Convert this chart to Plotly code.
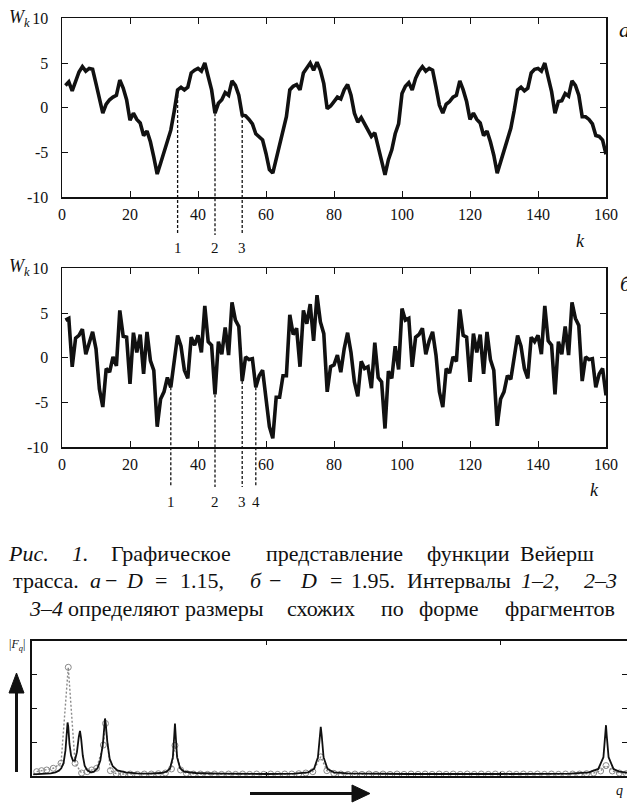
import plotly.graph_objects as go

W, H = 627, 804


def fx(p):
    return p / W


def fy(p):
    return 1 - p / H


# ---------------- data ----------------
k_values = list(range(1, 161))

w_a = [2.5, 2.9, 1.9, 3.1, 4.0, 4.6, 4.1, 4.4, 4.3, 2.7,
       0.9, -0.6, 0.4, 0.9, 1.2, 1.4, 3.1, 2.2, 0.9, -1.4,
       -0.6, -1.3, -1.7, -3.1, -2.6, -3.8, -5.5, -7.4, -6.2, -4.9,
       -3.6, -2.5, -0.4, 2.0, 2.3, 2.0, 2.3, 3.9, 4.2, 4.4,
       4.1, 5.0, 3.5, 2.0, -0.6, 0.5, 0.9, 1.7, 1.4, 3.0,
       2.5, 1.4, -0.8, -0.9, -1.3, -1.8, -2.9, -3.2, -3.6, -5.1,
       -6.9, -7.3, -5.8, -4.4, -2.7, -1.0, 2.0, 2.4, 2.6, 2.0,
       3.9, 4.4, 5.0, 4.2, 5.1, 4.2, 2.7, -0.1, 0.2, 0.7,
       1.2, 1.0, 2.0, 2.6, 1.4, -0.6, -1.6, -1.1, -1.8, -2.3,
       -3.2, -2.8, -4.4, -5.8, -7.5, -5.8, -4.7, -2.9, -1.8, 1.6,
       2.4, 2.8, 2.0, 3.3, 4.1, 4.6, 4.1, 4.4, 4.2, 2.3,
       0.3, -0.6, 0.4, 0.7, 1.2, 1.4, 3.0, 2.0, 0.7, -1.3,
       -0.6, -1.3, -1.7, -3.1, -2.6, -3.8, -5.3, -7.3, -6.0, -4.7,
       -3.6, -2.3, -0.3, 2.0, 2.3, 1.9, 2.2, 3.9, 4.3, 4.4,
       4.1, 5.0, 3.4, 1.8, -0.6, 0.7, 0.8, 1.6, 1.3, 3.0,
       2.5, 1.4, -1.0, -1.0, -1.3, -1.8, -3.1, -3.2, -3.6, -5.2]

w_b = [4.2, 4.4, -1.0, 2.2, 2.5, 3.2, 0.4, 1.8, 2.9, 1.0,
       -3.5, -5.5, -1.2, -1.6, 0.1, -0.9, 5.3, 2.4, 2.3, -2.9,
       2.8, 0.6, 2.6, -1.8, 2.9, -0.3, -1.4, -7.7, -4.6, -3.8,
       -2.2, -3.3, -0.1, 2.5, 1.3, -1.4, -2.3, 2.3, 1.4, 2.5,
       0.6, 5.8, 1.8, 1.4, -4.1, 1.8, 0.4, 3.4, 0.3, 6.2,
       4.2, 3.5, -2.6, 0.1, -0.2, -0.1, -3.3, -2.0, -1.4, -4.2,
       -7.7, -9.0, -4.4, -4.4, -2.0, -2.0, 4.8, 2.6, 3.3, -1.0,
       5.3, 3.8, 6.0, 1.9, 7.0, 4.0, 2.7, -3.8, -1.0, -0.8,
       0.3, -1.6, 1.0, 2.8, 0.6, -2.7, -4.3, -0.4, -1.2, -1.0,
       -3.4, 1.7, -2.2, -2.7, -7.9, -1.5, -2.3, 1.3, -1.3, 5.5,
       4.2, 4.4, -1.0, 2.3, 2.6, 3.3, 0.4, 1.9, 2.9, 0.3,
       -3.8, -5.5, -1.2, -1.7, 0.1, -0.4, 5.4, 2.5, 2.3, -2.7,
       2.7, 0.6, 2.6, -1.8, 2.9, -0.2, -1.4, -7.6, -4.6, -3.8,
       -2.0, -2.4, 0.3, 2.5, 1.3, -1.2, -2.3, 2.3, 1.8, 2.5,
       0.4, 5.8, 1.9, 1.4, -4.1, 1.8, 0.4, 3.5, 0.3, 6.2,
       4.4, 3.6, -2.6, 0.1, -0.2, -0.1, -3.3, -1.8, -1.2, -4.2]

cuts_a = [34, 45, 53]
cut_labels_a = ["1", "2", "3"]
cuts_b = [32, 45, 53, 57]
cut_labels_b = ["1", "2", "3", "4"]

x_tickvals = [0, 20, 40, 60, 80, 100, 120, 140, 160]
y_tickvals = [-10, -5, 0, 5, 10]
y_ticktext = ["-10", "-5", "0", "5", "10"]

# spectrum |F_q| (solid curve)
spec_q = [0.5, 5, 8, 10, 11.5, 12.5, 13.5, 14.3, 15.0, 15.2, 15.5, 16.0, 16.7, 17.5,
          18.3, 19.2, 20.0, 20.5, 21.0, 21.7, 22.5, 23.5, 25, 26.5, 28, 29.2, 30.3,
          31.0, 31.2, 31.5, 32.2, 33.2, 34.5, 36.5, 40, 45, 50, 55, 57.5, 59, 60.2,
          60.8, 61.1, 61.4, 62.0, 63.3, 65, 70, 80, 100, 112, 118, 120.5, 122.2,
          123.0, 123.4, 123.8, 124.6, 126.3, 129, 135, 160, 200, 230, 238, 242,
          244.2, 245.0, 245.3, 245.6, 246.4, 248.5, 251, 254.3]
spec_f = [0.04, 0.05, 0.07, 0.1, 0.15, 0.22, 0.38, 0.75, 1.45, 1.58, 1.45, 0.95, 0.6, 0.45,
          0.45, 0.7, 1.15, 1.33, 1.1, 0.6, 0.3, 0.17, 0.1, 0.12, 0.22, 0.45, 0.95,
          1.6, 1.7, 1.55, 1.0, 0.5, 0.28, 0.16, 0.1, 0.07, 0.06, 0.08, 0.12, 0.22, 0.55,
          1.2, 1.55, 1.2, 0.55, 0.22, 0.12, 0.08, 0.06, 0.05, 0.06, 0.1, 0.2, 0.55,
          1.2, 1.45, 1.2, 0.55, 0.2, 0.1, 0.07, 0.05, 0.05, 0.06, 0.1, 0.2,
          0.55, 1.2, 1.5, 1.2, 0.55, 0.2, 0.12, 0.09]

# spectrum, second series (circles)
circ_q = [2.0, 4.1, 6.3, 9.1, 12.4, 15.5, 18.4, 21.2, 23.6, 25.5, 27.6, 30.5, 31.4, 33.5,
          36, 39, 42, 45, 48, 51, 54, 57, 59.6, 61.1, 63.5, 66, 69, 72, 75, 78, 81, 84,
          87, 90, 93, 96, 99, 102, 105, 108, 111, 114, 117, 120, 123.4, 126, 129, 132,
          135, 138, 141, 144, 147, 150, 153, 156, 159, 162, 165, 168, 171, 174, 177,
          180, 183, 186, 189, 192, 195, 198, 201, 204, 207, 210, 213, 216, 219, 222,
          225, 228, 231, 234, 237, 240, 243, 245.3, 248, 251, 254]
circ_f = [0.12, 0.15, 0.17, 0.22, 0.37, 3.22, 0.37, 0.08, 0.12, 0.17, 0.22, 0.91, 1.55, 0.15,
          0.06, 0.05, 0.05, 0.04, 0.05, 0.05, 0.06, 0.08, 0.2, 0.9, 0.17, 0.07, 0.05, 0.05,
          0.04, 0.05, 0.04, 0.05, 0.04, 0.05, 0.04, 0.05, 0.04, 0.05, 0.04, 0.05, 0.05,
          0.06, 0.08, 0.12, 0.56, 0.15, 0.07, 0.05, 0.04, 0.05, 0.04, 0.05, 0.04, 0.05,
          0.04, 0.05, 0.04, 0.05, 0.04, 0.05, 0.04, 0.05, 0.04, 0.05, 0.04, 0.05, 0.04,
          0.05, 0.04, 0.05, 0.04, 0.05, 0.04, 0.05, 0.04, 0.05, 0.04, 0.05, 0.04, 0.05,
          0.05, 0.05, 0.06, 0.08, 0.14, 0.3, 0.14, 0.08, 0.06]
spec_xticks = [100, 200]
spec_yticks = [1, 2, 3]

# ---------------- geometry (pixels) ----------------
PL, PR = 62, 606
A_TOP, A_BOT, A_DASH = 18.3, 197.3, 235
B_TOP, B_BOT, B_DASH = 268.3, 447.3, 487
S_L, S_TOP, S_BOT = 32, 641, 775.7
S_PX_PER_Q = 2.34

FONT = "Liberation Serif, Times New Roman, Times, serif"
INK = "#111111"


def dash_range(top, bot, dash):
    per = (bot - top) / 20.0
    return [-10 - (dash - bot) / per, 10]


rng_a = dash_range(A_TOP, A_BOT, A_DASH)
rng_b = dash_range(B_TOP, B_BOT, B_DASH)

fig = go.Figure()

fig.add_trace(go.Scatter(x=k_values, y=w_a, mode="lines",
                         line=dict(color=INK, width=3.6), xaxis="x", yaxis="y",
                         showlegend=False, hoverinfo="skip"))
fig.add_trace(go.Scatter(x=k_values, y=w_b, mode="lines",
                         line=dict(color=INK, width=3.6), xaxis="x2", yaxis="y2",
                         showlegend=False, hoverinfo="skip"))

for kc in cuts_a:
    fig.add_trace(go.Scatter(x=[kc, kc], y=[w_a[kc - 1], rng_a[0]], mode="lines",
                             line=dict(color=INK, width=1.3, dash="3px,2px"),
                             xaxis="x3", yaxis="y3", showlegend=False, hoverinfo="skip"))
for kc in cuts_b:
    fig.add_trace(go.Scatter(x=[kc, kc], y=[w_b[kc - 1], rng_b[0]], mode="lines",
                             line=dict(color=INK, width=1.3, dash="3px,2px"),
                             xaxis="x4", yaxis="y4", showlegend=False, hoverinfo="skip"))

# spectrum
fig.add_trace(go.Scatter(x=circ_q, y=circ_f, mode="lines+markers",
                         line=dict(color="#8a8a8a", width=1.4, dash="2px,2px"),
                         marker=dict(symbol="circle-open", size=6, color="#8a8a8a",
                                     line=dict(width=1)),
                         xaxis="x5", yaxis="y5", showlegend=False, hoverinfo="skip",
                         cliponaxis=False))
fig.add_trace(go.Scatter(x=spec_q, y=spec_f, mode="lines",
                         line=dict(color=INK, width=1.8),
                         xaxis="x5", yaxis="y5", showlegend=False, hoverinfo="skip"))
fig.add_trace(go.Scatter(x=[None], y=[None], mode="lines", xaxis="x5", yaxis="y6",
                         showlegend=False, hoverinfo="skip"))

tickfont = dict(family=FONT, size=16, color=INK)

main_x = dict(range=[0, 160], tickvals=x_tickvals, ticks="inside", ticklen=6,
              tickwidth=1, tickcolor=INK, showline=True, linecolor=INK, linewidth=1.5,
              mirror="ticks", showgrid=False, zeroline=False, tickfont=tickfont,
              ticklabelstandoff=2, fixedrange=True, automargin=False)
main_y = dict(range=[-10, 10], tickvals=y_tickvals, ticktext=y_ticktext, ticks="inside",
              ticklen=6, tickwidth=1, tickcolor=INK, showline=True, linecolor=INK,
              linewidth=1.5, mirror="ticks", showgrid=False, zeroline=False,
              tickfont=tickfont, ticklabelstandoff=9, fixedrange=True, automargin=False)

hidden = dict(visible=False, showgrid=False, zeroline=False, fixedrange=True,
              automargin=False)

fig.update_layout(
    width=W, height=H,
    margin=dict(l=0, r=0, t=0, b=0, pad=0, autoexpand=False),
    paper_bgcolor="white", plot_bgcolor="rgba(0,0,0,0)",
    showlegend=False,
    font=dict(family=FONT, color=INK),
    xaxis=dict(domain=[fx(PL), fx(PR)], anchor="y", **main_x),
    yaxis=dict(domain=[fy(A_BOT), fy(A_TOP)], anchor="x", **main_y),
    xaxis2=dict(domain=[fx(PL), fx(PR)], anchor="y2", **main_x),
    yaxis2=dict(domain=[fy(B_BOT), fy(B_TOP)], anchor="x2", **main_y),
    xaxis3=dict(domain=[fx(PL), fx(PR)], anchor="y3", range=[0, 160], **hidden),
    yaxis3=dict(domain=[fy(A_DASH), fy(A_TOP)], anchor="x3", range=rng_a, **hidden),
    xaxis4=dict(domain=[fx(PL), fx(PR)], anchor="y4", range=[0, 160], **hidden),
    yaxis4=dict(domain=[fy(B_DASH), fy(B_TOP)], anchor="x4", range=rng_b, **hidden),
    xaxis5=dict(domain=[fx(S_L), 1.0], anchor="y5",
                range=[0, (W - S_L) / S_PX_PER_Q], tickvals=spec_xticks,
                showticklabels=False, ticks="inside", ticklen=4, tickwidth=1,
                tickcolor=INK, showline=True, linecolor=INK, linewidth=2.2,
                mirror="ticks", showgrid=False, zeroline=False, fixedrange=True,
                automargin=False),
    yaxis5=dict(domain=[fy(S_BOT), fy(S_TOP)], anchor="x5", range=[0, 4],
                tickvals=spec_yticks, showticklabels=False, ticks="inside", ticklen=5,
                tickwidth=1, tickcolor=INK, showline=True, linecolor=INK, linewidth=2,
                showgrid=False, zeroline=False, fixedrange=True, automargin=False),
    yaxis6=dict(overlaying="y5", side="right", anchor="x5", range=[0, 4],
                tickvals=spec_yticks, showticklabels=False, ticks="inside", ticklen=5,
                tickwidth=1, tickcolor=INK, showline=False, showgrid=False,
                zeroline=False, fixedrange=True, automargin=False),
)

ann = []


def text(t, x, y, size, xanchor="left", italic=False, xref="paper"):
    if italic:
        t = "<i>" + t + "</i>"
    ann.append(dict(text=t, x=x if xref != "paper" else fx(x), y=fy(y), xref=xref,
                    yref="paper", xanchor=xanchor, yanchor="middle", showarrow=False,
                    font=dict(family=FONT, size=size, color=INK)))


# axis titles / panel letters
text("<i>W</i><sub><i>k</i></sub>", 7, 19, 18)
text("<i>W</i><sub><i>k</i></sub>", 7, 268, 18)
text("k", 580, 241, 18, xanchor="center", italic=True)
text("k", 594, 490, 18, xanchor="center", italic=True)
text("а", 617, 30, 22, italic=True)
text("б", 618, 283, 22, italic=True)

for kc, lab in zip(cuts_a, cut_labels_a):
    text(lab, kc, 248, 15, xanchor="center", xref="x")
for kc, lab in zip(cuts_b, cut_labels_b):
    text(lab, kc, 502, 15, xanchor="center", xref="x")

# caption (word centres measured on the page)
CAP = 22
L1, L2, L3 = 553, 580, 608
for t, x, it in [("Рис.", 28, True), ("1.", 80, True), ("Графическое", 171, False),
                 ("представление", 334, False), ("функции", 468, False)]:
    text(t, x, L1, CAP, xanchor="center", italic=it)
text("Вейерш", 518, L1, CAP)
for t, x in [("трасса.", 46), ("<i>а</i>", 95), ("−", 111), ("<i>D</i>", 134),
             ("=", 161), ("1.15,", 202), ("<i>б</i>", 256), ("−", 275),
             ("<i>D</i>", 308), ("=", 336), ("1.95.", 373), ("Интервалы", 459),
             ("<i>1–2</i>,", 540)]:
    text(t, x, L2, CAP, xanchor="center")
text("<i>2–3</i>", 582, L2, CAP)
for t, x, it in [("3–4", 46, True), ("определяют", 124, False), ("размеры", 224, False),
                 ("схожих", 321, False), ("по", 392, False), ("форме", 449, False),
                 ("фрагментов", 560, False)]:
    text(t, x, L3, CAP, xanchor="center", italic=it)

# spectrum labels
text("|<i>F</i><sub><i>q</i></sub>|", 7, 645, 12)
text("q", 619, 790, 14, xanchor="center", italic=True)

fig.update_layout(annotations=ann)

# arrows (page decorations)
shapes = [
    dict(type="line", xref="paper", yref="paper", x0=fx(16.5), x1=fx(16.5),
         y0=fy(772), y1=fy(690), line=dict(color=INK, width=3)),
    dict(type="path", xref="paper", yref="paper",
         path="M {} {} L {} {} L {} {} Z".format(fx(9), fy(693), fx(24), fy(693),
                                               fx(16.5), fy(673)),
         fillcolor=INK, line=dict(color=INK, width=1)),
    dict(type="line", xref="paper", yref="paper", x0=fx(250), x1=fx(355),
         y0=fy(793.5), y1=fy(793.5), line=dict(color=INK, width=3)),
    dict(type="path", xref="paper", yref="paper",
         path="M {} {} L {} {} L {} {} Z".format(fx(352), fy(785), fx(352), fy(802),
                                               fx(370), fy(793.5)),
         fillcolor=INK, line=dict(color=INK, width=1)),
]
fig.update_layout(shapes=shapes)

fig.write_html(
    "out.html",
    config={"displayModeBar": False, "staticPlot": True},
    post_script="document.documentElement.style.margin='0';"
                "document.body.style.margin='0';"
                "document.body.style.overflow='hidden';",
)
